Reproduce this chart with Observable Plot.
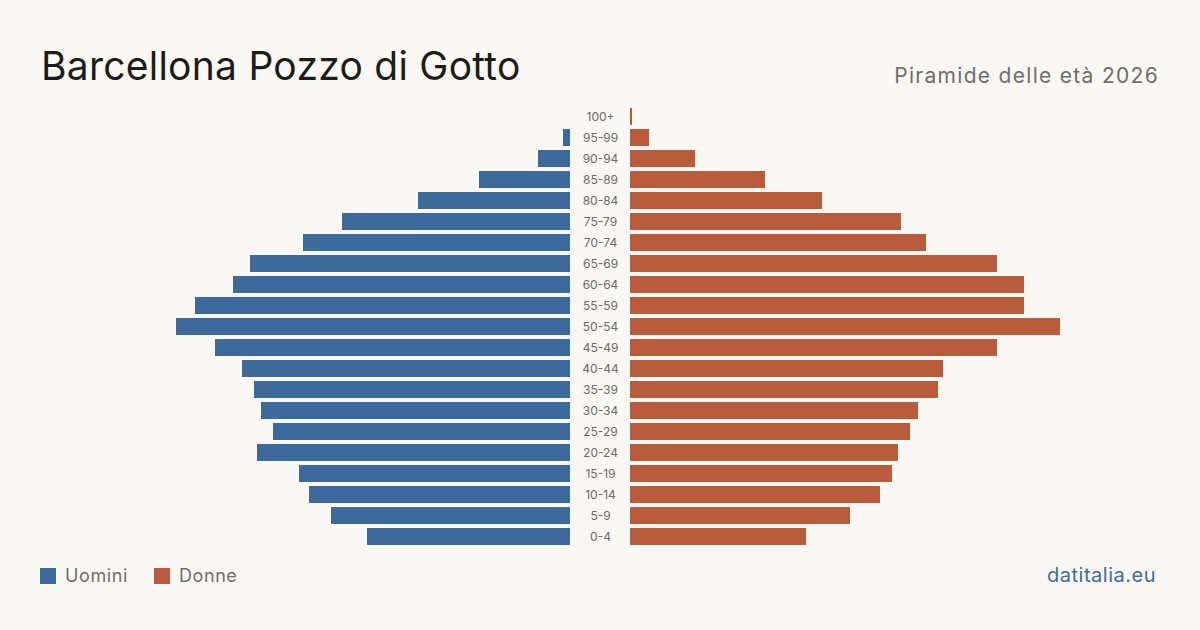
<!DOCTYPE html>
<html>
<head>
<meta charset="utf-8">
<script src="https://cdn.jsdelivr.net/npm/d3@7"></script>
<script src="https://cdn.jsdelivr.net/npm/@observablehq/plot@0.6"></script>
<style>
  html, body { margin: 0; padding: 0; }
  body { width: 1200px; height: 630px; background: #f9f8f4; position: relative; overflow: hidden; font-family: Inter, "Noto Sans", sans-serif; }
  .title { position: absolute; left: 41px; top: 46px; font-size: 39px; line-height: 1; color: #1c1c1c; font-weight: 400; letter-spacing: 0.25px; }
  .subtitle { position: absolute; right: 41px; top: 65px; font-size: 21px; line-height: 1; color: #6e6e6e; letter-spacing: 1.3px; }
  #chart { position: absolute; left: 0; top: 100px; }
  .legend { position: absolute; left: 40px; top: 567px; display: flex; align-items: center; font-size: 18px; line-height: 1; color: #6e6e6e; letter-spacing: 0.6px; }
  .legend .sw { width: 16px; height: 16px; display: inline-block; margin-right: 9px; }
  .legend .item { display: flex; align-items: center; margin-right: 26px; }
  .source { position: absolute; right: 44px; top: 565px; font-size: 20px; line-height: 1; color: #3c6a9c; letter-spacing: 0.5px; }
</style>
</head>
<body>
<div class="title">Barcellona Pozzo di Gotto</div>
<div class="subtitle">Piramide delle età 2026</div>
<div id="chart"></div>
<div class="legend"></div>
<div class="source">datitalia.eu</div>
<script>
const ages = ["100+","95-99","90-94","85-89","80-84","75-79","70-74","65-69","60-64","55-59","50-54","45-49","40-44","35-39","30-34","25-29","20-24","15-19","10-14","5-9","0-4"];
const uomini = [0, 28, 128, 364, 608, 912, 1068, 1280, 1348, 1500, 1576, 1420, 1312, 1264, 1236, 1188, 1252, 1084, 1044, 956, 812];
const donne = [8, 76, 260, 540, 768, 1084, 1184, 1468, 1576, 1576, 1720, 1468, 1252, 1232, 1152, 1120, 1072, 1048, 1000, 880, 704];
const seriesNames = ["Uomini", "Donne"];
const seriesColors = ["#3c6a9c", "#b95c3c"];

const rows = ages.map((a, i) => ({age: a, uomini: uomini[i], donne: donne[i]}));

const chart = Plot.plot({
  width: 1200,
  height: 450,
  marginLeft: 40,
  marginRight: 40,
  marginTop: 4,
  marginBottom: 1,
  style: {background: "transparent", fontFamily: "Inter, 'Noto Sans', sans-serif"},
  x: {domain: [-2240, 2240], axis: null},
  y: {domain: ages, axis: null, paddingInner: 4/21, paddingOuter: 4/21},
  marks: [
    Plot.barX(rows, {y: "age", x1: 0, x2: d => -d.uomini, dx: -30, fill: seriesColors[0]}),
    Plot.barX(rows, {y: "age", x1: 0, x2: d => d.donne, dx: 30, fill: seriesColors[1]}),
    Plot.text(rows, {y: "age", x: 0, text: "age", fill: "#6b6b6b", fontSize: 12, textAnchor: "middle"})
  ]
});
document.getElementById("chart").appendChild(chart);

const legend = document.querySelector(".legend");
seriesNames.forEach((n, i) => {
  const item = document.createElement("div");
  item.className = "item";
  const sw = document.createElement("span");
  sw.className = "sw";
  sw.style.background = seriesColors[i];
  item.appendChild(sw);
  item.appendChild(document.createTextNode(n));
  legend.appendChild(item);
});
</script>
</body>
</html>
